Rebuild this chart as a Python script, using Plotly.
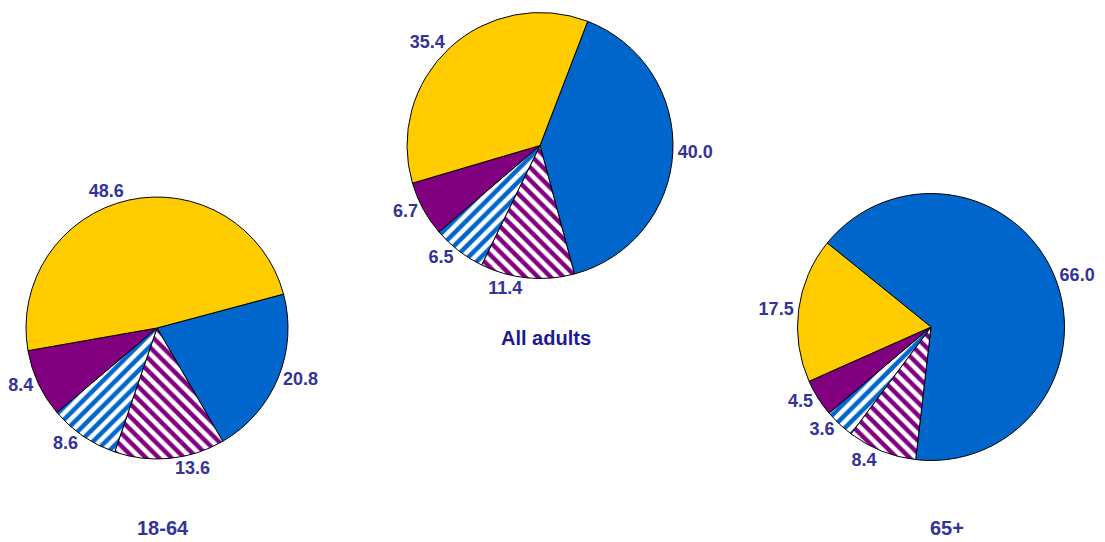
import plotly.graph_objects as go

# Slice order (clockwise from start angle)
categories = ["Blue", "Purple striped", "Blue striped", "Purple", "Yellow"]

values_1864 = [20.8, 13.6, 8.6, 8.4, 48.6]
values_all = [40.0, 11.4, 6.5, 6.7, 35.4]
values_65 = [66.0, 8.4, 3.6, 4.5, 17.5]

titles = ["18-64", "All adults", "65+"]

BLUE = "#0066CC"
YELLOW = "#FFCC00"
PURPLE = "#800080"
WHITE = "#FFFFFF"
LABEL = "#333399"

base_colors = [BLUE, PURPLE, WHITE, PURPLE, YELLOW]
pat_shapes = ["", "\\", "/", "", ""]
pat_fg = [BLUE, WHITE, BLUE, PURPLE, YELLOW]

FONT = "Liberation Sans, Arial, sans-serif"


def make_pie(vals, domain, rotation):
    return go.Pie(
        labels=categories,
        values=vals,
        sort=False,
        direction="clockwise",
        rotation=rotation,
        domain=domain,
        texttemplate="%{value:.1f}",
        textposition="outside",
        textfont=dict(family=FONT, size=18, color=LABEL, weight="bold"),
        marker=dict(
            colors=base_colors,
            line=dict(color="black", width=1),
            pattern=dict(shape=pat_shapes, fgcolor=pat_fg, fillmode="overlay",
                         fgopacity=1, size=9, solidity=0.5),
        ),
        hoverinfo="label+value",
        showlegend=False,
    )


fig = go.Figure()
fig.add_trace(make_pie(values_1864, dict(x=[0.02353, 0.26063], y=[0.15314, 0.63653]), 75))
fig.add_trace(make_pie(values_all, dict(x=[0.36833, 0.60905], y=[0.48616, 0.97694]), 21))
fig.add_trace(make_pie(values_65, dict(x=[0.72172, 0.96335], y=[0.15037, 0.64299]), 309))

title_pos = [(163, 528, LABEL), (546, 338, "#1a1a99"), (947, 528, LABEL)]
for t, (px, py, col) in zip(titles, title_pos):
    fig.add_annotation(
        text=t, x=px / 1105, y=1 - py / 542, xref="paper", yref="paper",
        showarrow=False, xanchor="center", yanchor="middle",
        font=dict(family=FONT, size=20, color=col, weight="bold"),
    )

fig.update_layout(
    width=1105, height=542,
    margin=dict(l=0, r=0, t=0, b=0),
    paper_bgcolor="white", plot_bgcolor="white",
)

fig.write_html(
    "out.html",
    config={"displayModeBar": False},
    post_script="document.body.style.margin='0';document.body.style.overflow='hidden';",
)
